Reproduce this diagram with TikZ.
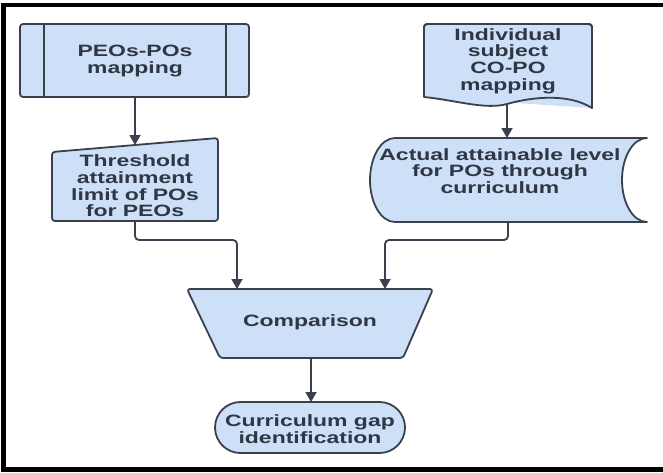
\documentclass[tikz,border=0pt]{standalone}
\usepackage{fontspec}
\newfontfamily\labelfont{Liberation Sans}[FakeStretch=1.4]
\usetikzlibrary{arrows.meta}
\definecolor{boxfill}{RGB}{205,224,248}
\definecolor{boxline}{RGB}{58,65,76}
\definecolor{labeltext}{RGB}{47,55,68}

\begin{document}
\begin{tikzpicture}[x=1pt,y=-1pt,
  shapebox/.style={draw=boxline,fill=boxfill,line width=1.8pt,line join=round},
  txt/.style={text=labeltext,font=\labelfont\bfseries\fontsize{16.4}{16.6}\selectfont,align=center,inner sep=0pt},
  flow/.style={draw=boxline,line width=1.8pt,-{Triangle[width=11pt,length=10pt]},rounded corners=4pt}
]
\useasboundingbox (0,0) rectangle (663,472);
\fill[white] (0,0) rectangle (663,472);

% frame
\fill[black] (1,3) rectangle (663,7);
\fill[black] (1,3) rectangle (6,472);
\fill[black] (1,467) rectangle (663,472);

% predefined process
\draw[shapebox,rounded corners=3pt] (20,24) rectangle (249,97);
\draw[boxline,line width=1.8pt] (44,24) -- (44,97) (226,24) -- (226,97);
\node[txt] (peo) at (135,61) {PEOs-POs\\mapping};
\coordinate (peo-s) at (135,97);

% manual input
\draw[shapebox,rounded corners=3pt] (52,152) -- (218,138) -- (218,221) -- (52,221) -- cycle;
\node[txt] (thr) at (135,186) {Threshold\\attainment\\limit of POs\\for PEOs};
\coordinate (thr-n) at (135,145);
\coordinate (thr-s) at (135,221);

% document
\draw[shapebox,rounded corners=3pt] (424,97) -- (424,24) -- (592,24) -- (592,108);
\fill[boxfill] (424,96) -- (424,30) -- (592,30) -- (592,108)
  .. controls (570,94) and (535,96) .. (507,104)
  .. controls (485,110) and (455,100) .. (424,96) -- cycle;
\draw[boxline,line width=1.8pt,rounded corners=3pt] (424,40) -- (424,24) -- (592,24) -- (592,40);
\draw[boxline,line width=1.8pt,line join=round] (424,30) -- (424,97)
  .. controls (455,100) and (485,110) .. (507,104)
  .. controls (535,96) and (570,94) .. (592,108) -- (592,30);
\node[txt] (doc) at (508,61) {Individual\\subject\\CO-PO\\mapping};
\coordinate (doc-s) at (507,104);

% stored data
\draw[shapebox] (395,138) -- (647,138)
  arc[start angle=270,end angle=90,x radius=25,y radius=42]
  -- (395,222)
  arc[start angle=90,end angle=270,x radius=25,y radius=42] -- cycle;
\node[txt] (act) at (500,171) {Actual attainable level\\for POs through\\curriculum};
\coordinate (act-n) at (507,138);
\coordinate (act-s) at (508,222);

% comparison (trapezoid)
\draw[shapebox,rounded corners=3pt] (187,289) -- (433,289) -- (403,358) -- (220,358) -- cycle;
\node[txt] (cmp) at (310,322) {Comparison};
\coordinate (cmp-nw) at (237,289);
\coordinate (cmp-ne) at (385,289);
\coordinate (cmp-s) at (311,358);

% terminal
\draw[shapebox,rounded corners=25.5pt] (215,402) rectangle (405,453);
\node[txt] (gap) at (310,429) {Curriculum gap\\identification};
\coordinate (gap-n) at (311,402);

% connectors
\draw[flow] (peo-s) -- (thr-n);
\draw[flow] (doc-s) -- (act-n);
\draw[flow] (thr-s) -- (135,240) -- (237,240) -- (cmp-nw);
\draw[flow] (act-s) -- (508,240) -- (385,240) -- (cmp-ne);
\draw[flow] (cmp-s) -- (gap-n);
\end{tikzpicture}
\end{document}
